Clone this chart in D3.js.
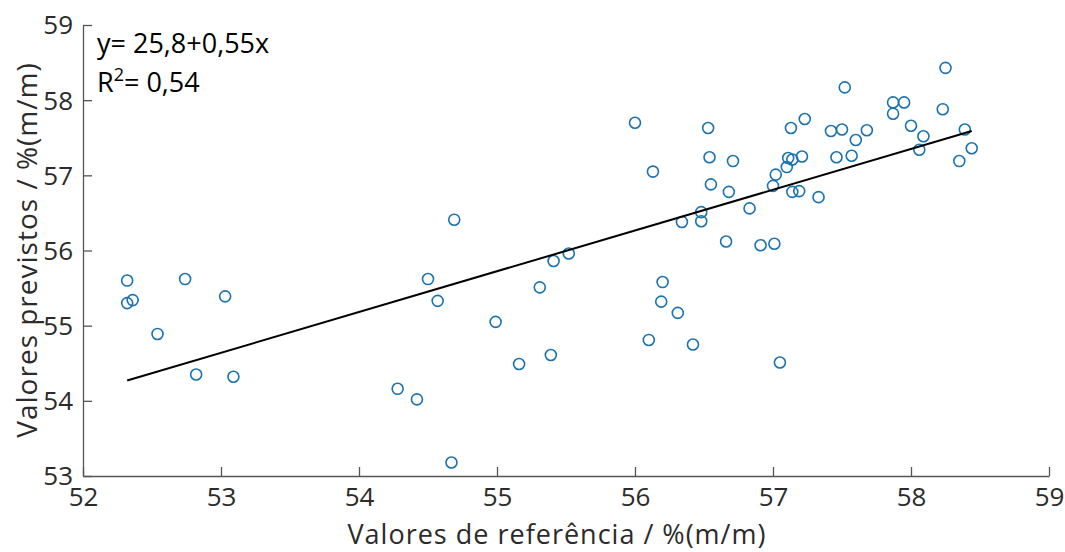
<!DOCTYPE html>
<html><head><meta charset="utf-8">
<script src="https://cdn.jsdelivr.net/npm/d3@7"></script>
<style>body{margin:0;background:#fff}svg{display:block}</style>
</head><body>
<svg id="c" width="1065" height="552"></svg>
<script>
const refValues = [52.32,52.32,52.36,52.54,52.74,52.82,53.03,53.09,54.28,54.42,54.50,54.57,54.69,54.67,54.99,55.16,55.31,55.39,55.41,55.52,56.00,56.10,56.13,56.19,56.20,56.31,56.34,56.42,56.48,56.48,56.53,56.54,56.55,56.66,56.68,56.71,56.83,56.91,57.00,57.01,57.02,57.05,57.10,57.11,57.13,57.14,57.14,57.19,57.21,57.23,57.33,57.42,57.46,57.50,57.52,57.57,57.60,57.68,57.87,57.87,57.95,58.00,58.06,58.09,58.23,58.25,58.35,58.39,58.44];
const predValues = [55.60,55.30,55.34,54.89,55.62,54.35,55.39,54.32,54.16,54.02,55.62,55.33,56.41,53.18,55.05,54.49,55.51,54.61,55.86,55.96,57.70,54.81,57.05,55.32,55.58,55.17,56.38,54.75,56.51,56.39,57.63,57.24,56.88,56.12,56.78,57.19,56.56,56.07,56.86,56.09,57.01,54.51,57.11,57.23,57.63,57.21,56.78,56.79,57.25,57.75,56.71,57.59,57.24,57.61,58.17,57.26,57.47,57.60,57.97,57.82,57.97,57.66,57.34,57.52,57.88,58.43,57.19,57.61,57.36];
const fitX = [52.32, 58.44];
const fitY = [54.27, 57.59];
const xTicks = [52,53,54,55,56,57,58,59];
const yTicks = [53,54,55,56,57,58,59];
const equationText = "y= 25,8+0,55x";
const r2Value = "0,54";
const xLabel = "Valores de referência / %(m/m)";
const yLabel = "Valores previstos / %(m/m)";

const font = "'Open Sans', sans-serif";
const svg = d3.select("#c");
const x = d3.scaleLinear().domain([52,59]).range([83,1049]);
const y = d3.scaleLinear().domain([53,59]).range([476,25]);
const axisColor = "#555";
const textColor = "#2b2b2b";

const gx = svg.append("g").attr("transform","translate(0,476)")
  .call(d3.axisBottom(x).tickValues(xTicks).tickFormat(d3.format("d")).tickSizeInner(-9).tickSizeOuter(0).tickPadding(12));
const gy = svg.append("g").attr("transform","translate(83,0)")
  .call(d3.axisLeft(y).tickValues(yTicks).tickFormat(d3.format("d")).tickSizeInner(-9).tickSizeOuter(0).tickPadding(10));
[gx,gy].forEach(g=>{
  g.select(".domain").attr("stroke",axisColor).attr("stroke-width",1.3);
  g.selectAll(".tick line").attr("stroke",axisColor).attr("stroke-width",1.3);
  g.selectAll(".tick text").attr("fill",textColor).style("font-family",font).style("font-size","26px");
});
gx.selectAll(".tick text").attr("dy","0.71em");
gy.selectAll(".tick text").attr("dy","0.34em");

svg.append("text").attr("x",557).attr("y",544).attr("text-anchor","middle")
  .attr("fill",textColor).style("font-family",font).style("font-size","27px").style("letter-spacing","1px").text(xLabel);
svg.append("text").attr("transform","translate(37,250) rotate(-90)").attr("text-anchor","middle")
  .attr("fill",textColor).style("font-family",font).style("font-size","28px").style("letter-spacing","1px").text(yLabel);

svg.append("g").selectAll("circle").data(refValues.map((v,i)=>[v,predValues[i]])).join("circle")
  .attr("cx",d=>x(d[0])).attr("cy",d=>y(d[1])).attr("r",5.5)
  .attr("fill","none").attr("stroke","#1a72b0").attr("stroke-width",1.6);

svg.append("path").datum(fitX.map((v,i)=>[v,fitY[i]]))
  .attr("d",d3.line().x(d=>x(d[0])).y(d=>y(d[1])))
  .attr("stroke","#000").attr("stroke-width",2).attr("fill","none");

svg.append("text").attr("x",97).attr("y",53).attr("fill","#000")
  .style("font-family",font).style("font-size","27px").text(equationText);
const r2 = svg.append("text").attr("x",97).attr("y",92).attr("fill","#000")
  .style("font-family",font).style("font-size","27px");
r2.append("tspan").text("R");
r2.append("tspan").attr("dy",-11).style("font-size","18px").text("2");
r2.append("tspan").attr("dy",11).text("= " + r2Value);
</script>
</body></html>
